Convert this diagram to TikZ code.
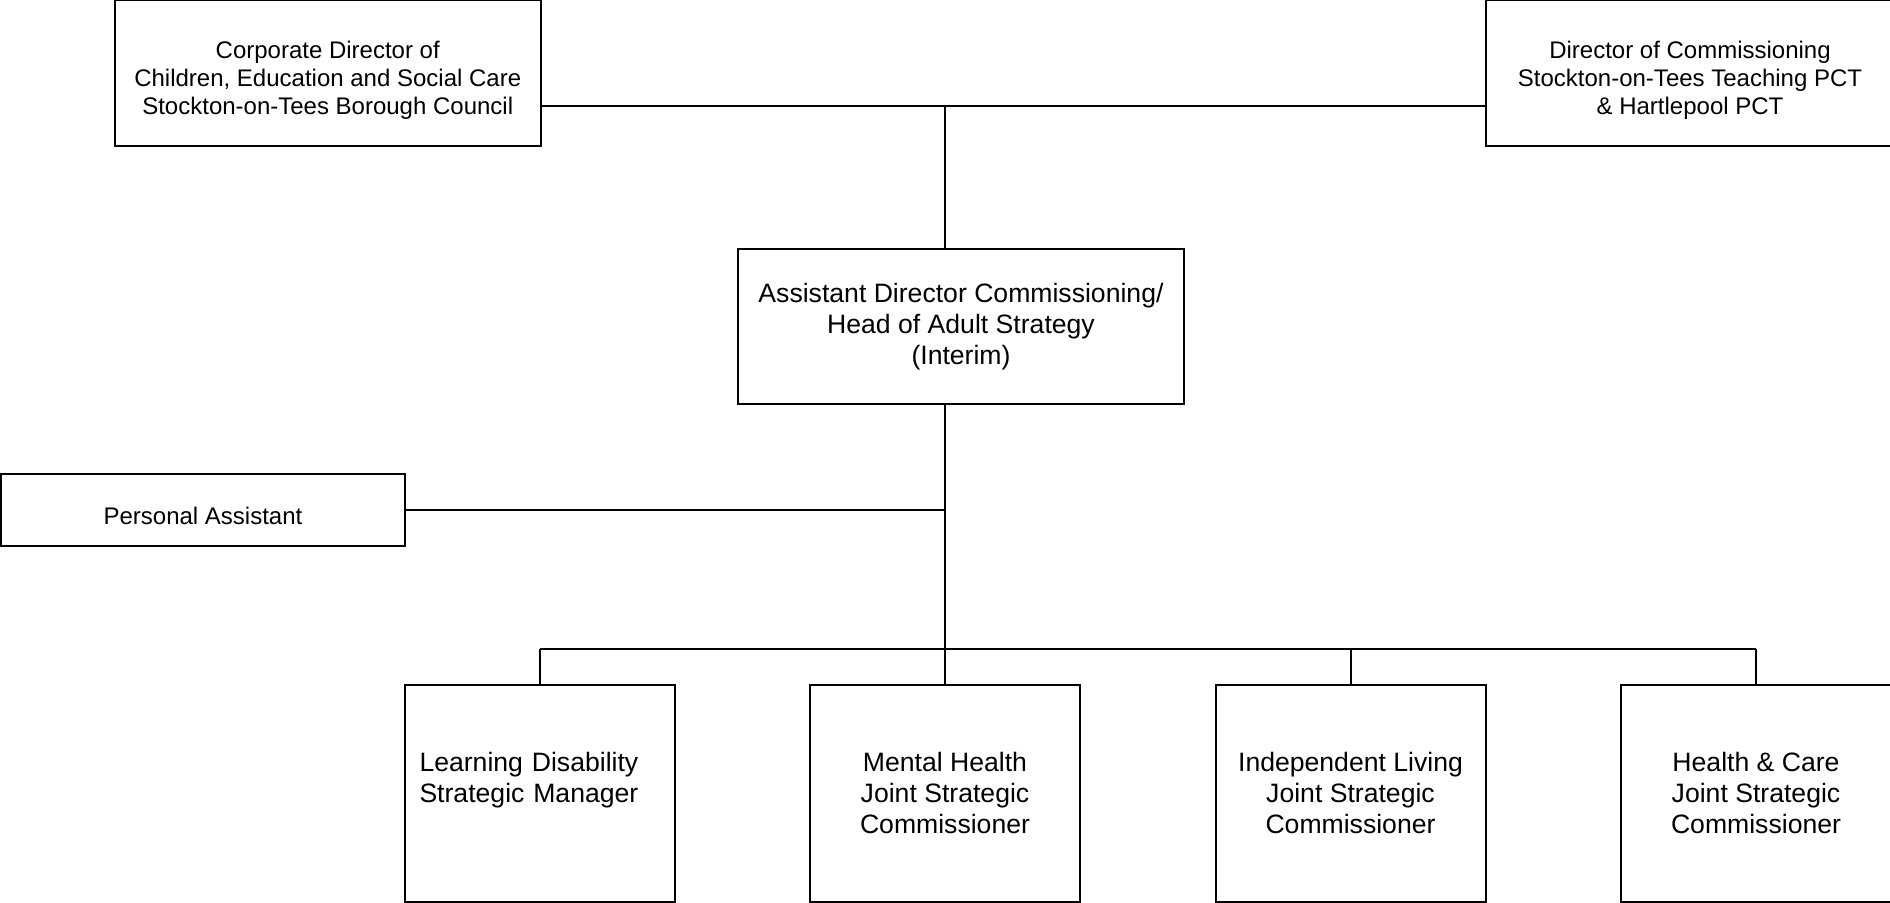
\documentclass[tikz,border=0pt]{standalone}
\usepackage{fontspec}
\setmainfont{Liberation Sans}

\begin{document}
\begin{tikzpicture}[x=0.5pt, y=-0.5pt,
  post/.style={rectangle, draw=black, line width=1pt, inner sep=0pt, align=center},
  head/.style={post, minimum width=213.25pt, minimum height=73pt},
  small/.style={align=center, inner sep=0pt, font=\fontsize{12pt}{13.85pt}\selectfont},
  staff/.style={post, minimum width=135pt, minimum height=108.5pt,
                font=\fontsize{13.3pt}{15.35pt}\selectfont},
  link/.style={draw=black, line width=1pt}
]
\useasboundingbox (0,0) rectangle (1890,903);

%% Top row
\node[head] (corp) at (327.75,73) {};
\node[small] (corptext) at ([yshift=-3.6pt]corp.center) {Corporate Director of\\Children, Education and Social Care\\Stockton-on-Tees Borough Council};
\node[head, minimum width=204pt] (dir) at (1690,73) {};
\node[small] (dirtext) at ([yshift=-3.6pt]dir.center) {Director of Commissioning\\Stockton-on-Tees Teaching PCT\\\& Hartlepool PCT};

%% Middle
\node[post, minimum width=223pt, minimum height=77.25pt,
      font=\fontsize{13.3pt}{15.35pt}\selectfont] (asst) at (961,326.75)
      {Assistant Director Commissioning/\\Head of Adult Strategy\\(Interim)};
\node[post, minimum width=202pt, minimum height=36pt] (pa) at (203,510) {};
\node[small] (patext) at ([yshift=-3pt]pa.center) {Personal Assistant};

%% Bottom row
\node[staff, align=left, text width=120.5pt] (ld) at (540,793) {Learning Disability\\Strategic Manager\\\mbox{}};
\node[staff] (mh) at (945,793)   {Mental Health\\Joint Strategic\\Commissioner};
\node[staff] (il) at (1350.5,793) {Independent Living\\Joint Strategic\\Commissioner};
\node[staff] (hc) at (1756,793)  {Health \& Care\\Joint Strategic\\Commissioner};

%% Lines
\coordinate (top) at (945,106);
\coordinate (bus) at (945,648.5);
\draw[link] (top -| corp.east) -- (top -| dir.west);
\draw[link] (top) -- (top |- asst.north);
\draw[link] (bus |- asst.south) -- (bus);
\draw[link] (pa.east) -- (pa.east -| bus);
\draw[link] (bus -| ld.north) -- (bus -| hc.north);
\draw[link] (bus -| ld.north) -- (ld.north);
\draw[link] (bus -| mh.north) -- (mh.north);
\draw[link] (bus -| il.north) -- (il.north);
\draw[link] (bus -| hc.north) -- (hc.north);
\end{tikzpicture}
\end{document}
